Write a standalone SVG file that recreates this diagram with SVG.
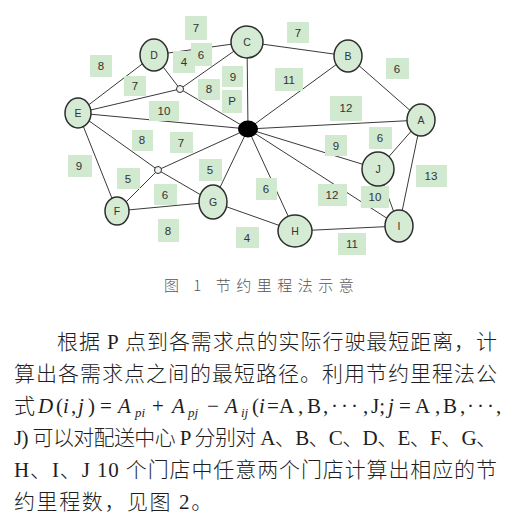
<svg xmlns="http://www.w3.org/2000/svg" width="518" height="521" viewBox="0 0 518 521">
<style>
.edge{stroke:#3a3a3a;stroke-width:1;fill:none}
.node{fill:#d5ebd4;stroke:#2e2e2e;stroke-width:1.5}
.nt{font-family:"Liberation Sans",Arial,sans-serif;font-size:10.5px;fill:#333;text-anchor:middle;dominant-baseline:central}
.lb rect{fill:#d0e9cf}
.lb text{font-family:"Liberation Sans",Arial,sans-serif;font-size:11.5px;fill:#333;text-anchor:middle;dominant-baseline:central}
.small{fill:#eef6ee;stroke:#2e2e2e;stroke-width:1}
.cap{font-family:"Noto Sans CJK SC",sans-serif;font-size:15px;font-weight:300;fill:#555;letter-spacing:5.5px}
.body{font-family:"Liberation Serif","Noto Sans CJK SC",serif;font-size:21px;font-weight:300;fill:#1e1e1e}
.m{font-family:"Liberation Serif",serif;font-weight:normal}
.it{font-style:italic}
.sub{font-size:13px}
</style>
<rect width="518" height="521" fill="#fff"/>
<g id="connectors">
<line class="edge" x1="78" y1="113" x2="154" y2="55"/>
<line class="edge" x1="154" y1="55" x2="247" y2="42"/>
<line class="edge" x1="247" y1="42" x2="348" y2="56"/>
<line class="edge" x1="348" y1="56" x2="421" y2="120"/>
<line class="edge" x1="154" y1="55" x2="180" y2="89"/>
<line class="edge" x1="180" y1="89" x2="247" y2="42"/>
<line class="edge" x1="78" y1="113" x2="180" y2="89"/>
<line class="edge" x1="180" y1="89" x2="248" y2="129"/>
<line class="edge" x1="78" y1="113" x2="248" y2="129"/>
<line class="edge" x1="247" y1="42" x2="248" y2="129"/>
<line class="edge" x1="348" y1="56" x2="248" y2="129"/>
<line class="edge" x1="421" y1="120" x2="248" y2="129"/>
<line class="edge" x1="248" y1="129" x2="378" y2="169"/>
<line class="edge" x1="248" y1="129" x2="399" y2="226"/>
<line class="edge" x1="248" y1="129" x2="295" y2="231"/>
<line class="edge" x1="248" y1="129" x2="213" y2="202"/>
<line class="edge" x1="248" y1="129" x2="158" y2="170"/>
<line class="edge" x1="78" y1="113" x2="158" y2="170"/>
<line class="edge" x1="158" y1="170" x2="213" y2="202"/>
<line class="edge" x1="158" y1="170" x2="117" y2="211"/>
<line class="edge" x1="78" y1="113" x2="117" y2="211"/>
<line class="edge" x1="117" y1="211" x2="213" y2="202"/>
<line class="edge" x1="213" y1="202" x2="295" y2="231"/>
<line class="edge" x1="295" y1="231" x2="399" y2="226"/>
<line class="edge" x1="378" y1="169" x2="399" y2="226"/>
<line class="edge" x1="421" y1="120" x2="378" y2="169"/>
<line class="edge" x1="421" y1="120" x2="399" y2="226"/>
</g>
<g id="labels">
<g class="lb"><rect x="185" y="16" width="22" height="24"/><text x="196" y="28">7</text></g>
<g class="lb"><rect x="173" y="51" width="22" height="22"/><text x="184" y="62">4</text></g>
<g class="lb"><rect x="191" y="43" width="21" height="23"/><text x="201" y="55">6</text></g>
<g class="lb"><rect x="90" y="55" width="22" height="22"/><text x="101" y="66">8</text></g>
<g class="lb"><rect x="124" y="76" width="22" height="20"/><text x="135" y="86">7</text></g>
<g class="lb"><rect x="149" y="101" width="30" height="20"/><text x="164" y="111">10</text></g>
<g class="lb"><rect x="222" y="66" width="21" height="21"/><text x="233" y="77">9</text></g>
<g class="lb"><rect x="198" y="79" width="22" height="21"/><text x="209" y="89">8</text></g>
<g class="lb"><rect x="222" y="90" width="20" height="23"/><text x="232" y="101">P</text></g>
<g class="lb"><rect x="287" y="22" width="22" height="21"/><text x="298" y="33">7</text></g>
<g class="lb"><rect x="275" y="68" width="28" height="23"/><text x="289" y="80">11</text></g>
<g class="lb"><rect x="386" y="58" width="23" height="21"/><text x="397" y="69">6</text></g>
<g class="lb"><rect x="330" y="96" width="32" height="25"/><text x="346" y="108">12</text></g>
<g class="lb"><rect x="132" y="130" width="21" height="21"/><text x="142" y="140">8</text></g>
<g class="lb"><rect x="170" y="132" width="23" height="21"/><text x="181" y="143">7</text></g>
<g class="lb"><rect x="68" y="155" width="24" height="22"/><text x="79" y="166">9</text></g>
<g class="lb"><rect x="117" y="168" width="23" height="21"/><text x="128" y="179">5</text></g>
<g class="lb"><rect x="199" y="159" width="23" height="22"/><text x="210" y="170">5</text></g>
<g class="lb"><rect x="154" y="184" width="23" height="21"/><text x="165" y="195">6</text></g>
<g class="lb"><rect x="158" y="219" width="21" height="23"/><text x="168" y="231">8</text></g>
<g class="lb"><rect x="236" y="227" width="23" height="21"/><text x="247" y="238">4</text></g>
<g class="lb"><rect x="256" y="178" width="21" height="22"/><text x="266" y="189">6</text></g>
<g class="lb"><rect x="325" y="135" width="22" height="21"/><text x="336" y="146">9</text></g>
<g class="lb"><rect x="369" y="127" width="23" height="22"/><text x="380" y="138">6</text></g>
<g class="lb"><rect x="416" y="165" width="31" height="22"/><text x="431" y="176">13</text></g>
<g class="lb"><rect x="318" y="184" width="29" height="22"/><text x="332" y="195">12</text></g>
<g class="lb"><rect x="361" y="186" width="28" height="22"/><text x="375" y="197">10</text></g>
<g class="lb"><rect x="338" y="233" width="28" height="22"/><text x="352" y="244">11</text></g>
</g>
<g id="node-s1"><circle class="small" cx="180" cy="89" r="3.5"/></g>
<g id="node-s2"><circle class="small" cx="158" cy="170" r="3.5"/></g>
<g id="node-P"><ellipse cx="248" cy="129" rx="10" ry="8.5" fill="#000"/></g>
<g id="node-A"><ellipse class="node" cx="421" cy="120" rx="14" ry="16"/><text class="nt" x="421" y="120">A</text></g>
<g id="node-B"><ellipse class="node" cx="348" cy="56" rx="14" ry="16"/><text class="nt" x="348" y="56">B</text></g>
<g id="node-C"><ellipse class="node" cx="247" cy="42" rx="16" ry="16"/><text class="nt" x="247" y="42">C</text></g>
<g id="node-D"><ellipse class="node" cx="154" cy="55" rx="14" ry="16"/><text class="nt" x="154" y="55">D</text></g>
<g id="node-E"><ellipse class="node" cx="78" cy="113" rx="13" ry="15"/><text class="nt" x="78" y="113">E</text></g>
<g id="node-F"><ellipse class="node" cx="117" cy="211" rx="12" ry="14"/><text class="nt" x="117" y="211">F</text></g>
<g id="node-G"><ellipse class="node" cx="213" cy="202" rx="14" ry="17"/><text class="nt" x="213" y="202">G</text></g>
<g id="node-H"><ellipse class="node" cx="295" cy="231" rx="17" ry="16"/><text class="nt" x="295" y="231">H</text></g>
<g id="node-I"><ellipse class="node" cx="399" cy="226" rx="14" ry="16"/><text class="nt" x="399" y="226">I</text></g>
<g id="node-J"><ellipse class="node" cx="378" cy="169" rx="16" ry="17"/><text class="nt" x="378" y="169">J</text></g>
<text class="cap" x="164" y="291">图 1  节约里程法示意</text>
<g id="body">
<text class="body" x="57" y="349" textLength="440" lengthAdjust="spacing">根据 P 点到各需求点的实际行驶最短距离，计</text>
<text class="body" x="14" y="381" textLength="483" lengthAdjust="spacing">算出各需求点之间的最短路径。利用节约里程法公</text>
<text class="body" y="413"><tspan x="14">式</tspan><tspan class="m it" x="38">D</tspan><tspan class="m" x="56">(</tspan><tspan class="m it" x="63">i</tspan><tspan class="m" x="71">,</tspan><tspan class="m it" x="78">j</tspan><tspan class="m" x="88">)</tspan><tspan class="m" x="100">=</tspan><tspan class="m it" x="118">A</tspan><tspan class="m it sub" x="135" dy="4">pi</tspan><tspan class="m" x="152" dy="-4">+</tspan><tspan class="m it" x="172">A</tspan><tspan class="m it sub" x="188" dy="4">pj</tspan><tspan class="m" x="207" dy="-4">−</tspan><tspan class="m it" x="225">A</tspan><tspan class="m it sub" x="241" dy="4">ij</tspan><tspan class="m" x="252" dy="-4">(</tspan><tspan class="m it" x="259">i</tspan><tspan class="m" x="267">=</tspan><tspan class="m" x="279">A</tspan><tspan class="m" x="298">,</tspan><tspan class="m" x="307">B</tspan><tspan class="m" x="323">,</tspan><tspan class="m" x="331" letter-spacing="3">···</tspan><tspan class="m" x="363">,</tspan><tspan class="m" x="371">J;</tspan><tspan class="m it" x="388">j</tspan><tspan class="m" x="399">=</tspan><tspan class="m" x="415">A</tspan><tspan class="m" x="435">,</tspan><tspan class="m" x="443">B</tspan><tspan class="m" x="460">,</tspan><tspan class="m" x="467" letter-spacing="3">···</tspan><tspan class="m" x="496">,</tspan></text>
<text class="body" x="14" y="445" textLength="483" lengthAdjust="spacing">J) 可以对配送中心 P 分别对 A、B、C、D、E、F、G、</text>
<text class="body" x="14" y="477" textLength="483" lengthAdjust="spacing">H、I、J 10 个门店中任意两个门店计算出相应的节</text>
<text class="body" x="14" y="509" letter-spacing="1.6">约里程数，见图 2。</text>
</g>
</svg>
